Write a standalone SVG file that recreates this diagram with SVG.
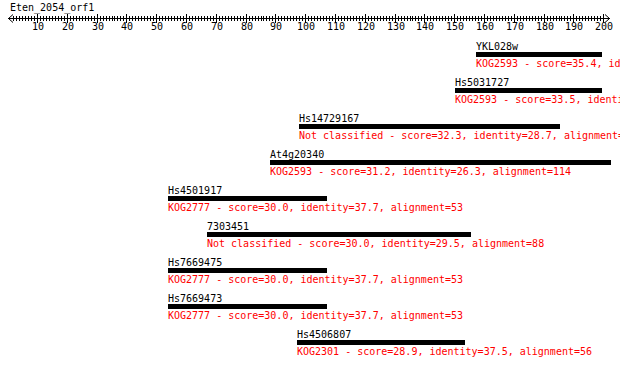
<svg xmlns="http://www.w3.org/2000/svg" width="620" height="365" viewBox="0 0 620 365">
<style>
text{font-family:"DejaVu Sans Mono","Liberation Mono",monospace;font-size:10px}
.n{fill:#000}
.r{fill:#ff0000}
.lab{text-anchor:middle}
.bar{fill:#000}
.ax{stroke:#000;stroke-width:1;fill:none}
.mt{stroke:#000;stroke-width:5;stroke-dasharray:1 2}
</style>
<rect width="620" height="365" fill="#fff"/>
<g id="axis">
<text class="n" x="10" y="11">Eten_2054_orf1</text>
<path class="ax" d="M8 18.5H610M13 14.5L8.5 18.5L13 22.5M605 14.5L609.5 18.5L605 22.5"/>
<line class="mt" x1="13" y1="18.5" x2="113" y2="18.5"/>
<line class="mt" x1="114" y1="18.5" x2="262" y2="18.5"/>
<line class="mt" x1="263" y1="18.5" x2="411" y2="18.5"/>
<line class="mt" x1="412" y1="18.5" x2="560" y2="18.5"/>
<line class="mt" x1="561" y1="18.5" x2="604" y2="18.5"/>
<path class="ax" d="M37.5 14v9M67.5 14v9M97.5 14v9M126.5 14v9M156.5 14v9M186.5 14v9M216.5 14v9M246.5 14v9M275.5 14v9M305.5 14v9M335.5 14v9M365.5 14v9M395.5 14v9M424.5 14v9M454.5 14v9M484.5 14v9M514.5 14v9M544.5 14v9M573.5 14v9M603.5 14v9"/>
<g class="n lab">
<text x="38" y="30">10</text><text x="68" y="30">20</text><text x="98" y="30">30</text><text x="127" y="30">40</text><text x="157" y="30">50</text><text x="187" y="30">60</text><text x="217" y="30">70</text><text x="247" y="30">80</text><text x="276" y="30">90</text><text x="306" y="30">100</text><text x="336" y="30">110</text><text x="366" y="30">120</text><text x="396" y="30">130</text><text x="425" y="30">140</text><text x="455" y="30">150</text><text x="485" y="30">160</text><text x="515" y="30">170</text><text x="545" y="30">180</text><text x="574" y="30">190</text><text x="604" y="30">200</text>
</g>
</g>
<g id="connectors"></g>
<g id="hit1"><text class="n" x="476" y="50">YKL028w</text><rect class="bar" x="476" y="52" width="126" height="5"/><text class="r" x="476" y="67">KOG2593 - score=35.4, id</text></g>
<g id="hit2"><text class="n" x="455" y="86">Hs5031727</text><rect class="bar" x="455" y="88" width="147" height="5"/><text class="r" x="455" y="103">KOG2593 - score=33.5, identi</text></g>
<g id="hit3"><text class="n" x="299" y="122">Hs14729167</text><rect class="bar" x="299" y="124" width="261" height="5"/><text class="r" x="299" y="139">Not classified - score=32.3, identity=28.7, alignment=</text></g>
<g id="hit4"><text class="n" x="270" y="158">At4g20340</text><rect class="bar" x="270" y="160" width="341" height="5"/><text class="r" x="270" y="175">KOG2593 - score=31.2, identity=26.3, alignment=114</text></g>
<g id="hit5"><text class="n" x="168" y="194">Hs4501917</text><rect class="bar" x="168" y="196" width="159" height="5"/><text class="r" x="168" y="211">KOG2777 - score=30.0, identity=37.7, alignment=53</text></g>
<g id="hit6"><text class="n" x="207" y="230">7303451</text><rect class="bar" x="207" y="232" width="264" height="5"/><text class="r" x="207" y="247">Not classified - score=30.0, identity=29.5, alignment=88</text></g>
<g id="hit7"><text class="n" x="168" y="266">Hs7669475</text><rect class="bar" x="168" y="268" width="159" height="5"/><text class="r" x="168" y="283">KOG2777 - score=30.0, identity=37.7, alignment=53</text></g>
<g id="hit8"><text class="n" x="168" y="302">Hs7669473</text><rect class="bar" x="168" y="304" width="159" height="5"/><text class="r" x="168" y="319">KOG2777 - score=30.0, identity=37.7, alignment=53</text></g>
<g id="hit9"><text class="n" x="297" y="338">Hs4506807</text><rect class="bar" x="297" y="340" width="168" height="5"/><text class="r" x="297" y="355">KOG2301 - score=28.9, identity=37.5, alignment=56</text></g>
</svg>
